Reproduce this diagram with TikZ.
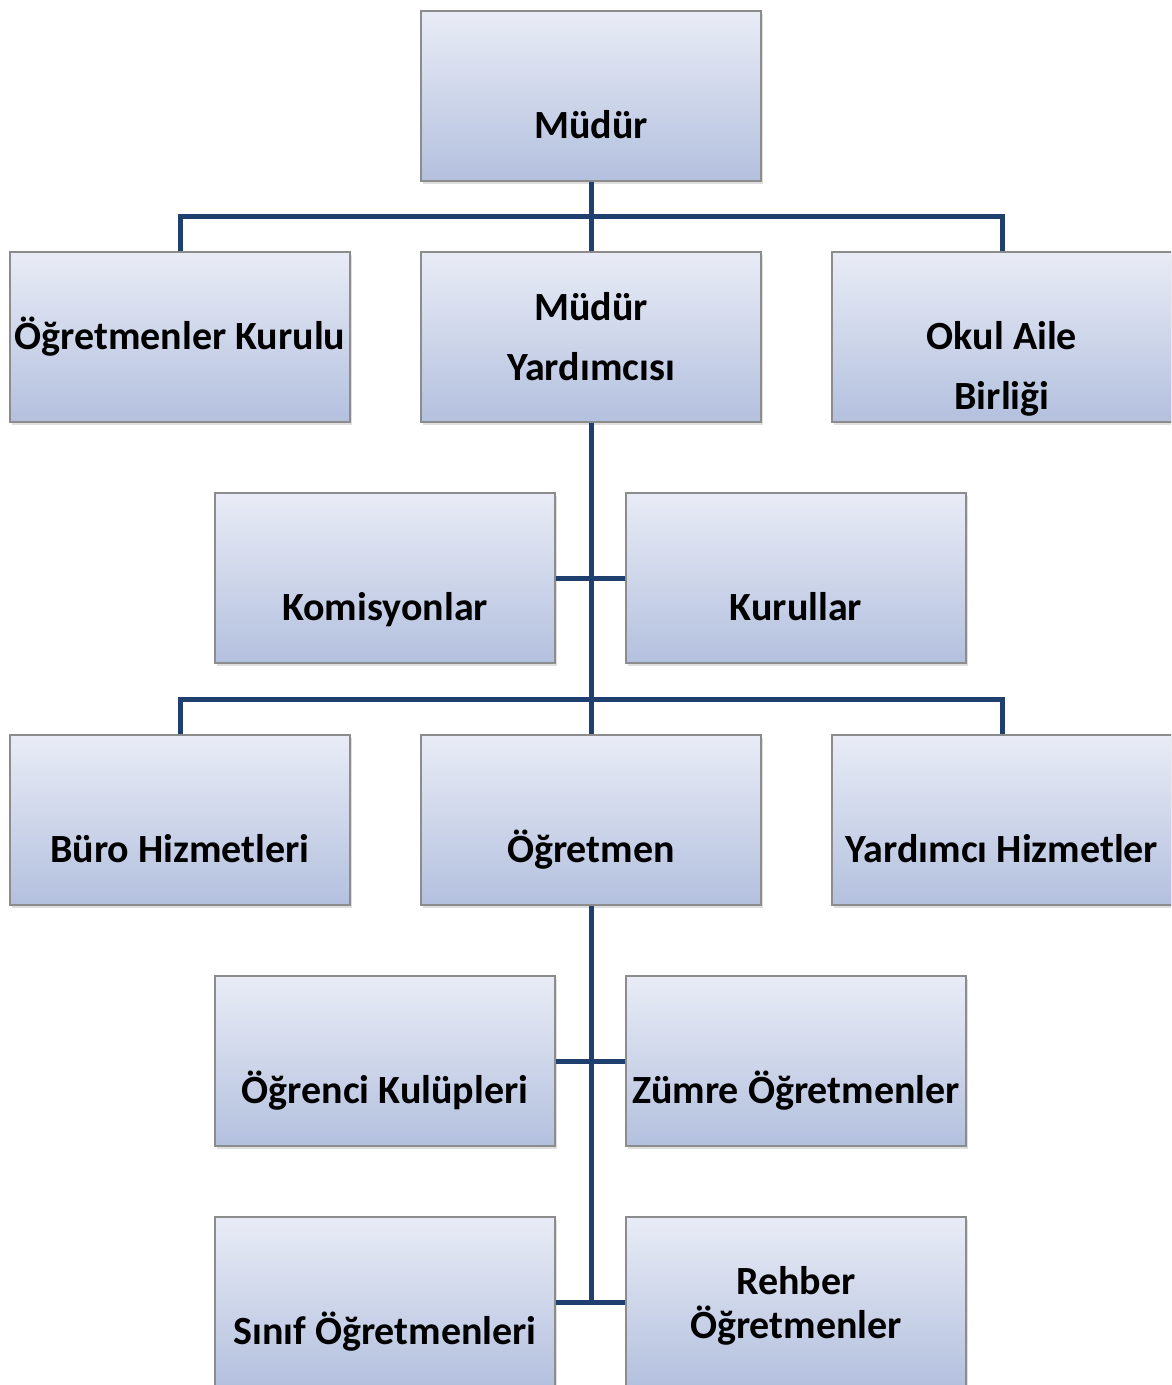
\documentclass[tikz,border=0pt]{standalone}
\usepackage{fontspec}
\setmainfont{Carlito}
\usetikzlibrary{shadows,calc}
\definecolor{boxtop}{RGB}{233,236,246}
\definecolor{boxbot}{RGB}{179,192,222}
\definecolor{boxline}{RGB}{140,140,140}
\definecolor{linkblue}{RGB}{31,63,110}
\newcommand{\lowtext}[2][32pt]{\raisebox{-#1}[0.7em][0.2em]{#2}}
\begin{document}
\begin{tikzpicture}[x=1pt,y=-1pt,
  unit/.style={draw=boxline, line width=1.2pt, top color=boxtop, bottom color=boxbot,
    minimum width=340pt, minimum height=170pt, inner sep=0pt, align=center,
    font=\bfseries\fontsize{40}{60}\selectfont,
    drop shadow={shadow xshift=1.5pt, shadow yshift=-3pt, opacity=0.25}},
  link/.style={draw=linkblue, line width=5pt}]
  \useasboundingbox (0,0) rectangle (1171,1385);
  \clip (0,0) rectangle (1171,1385);
  % Top
  \node[unit] (mudur) at (591,96) {\lowtext{Müdür}};
  % Second row
  \node[unit] (ogrKurulu) at (180,337) {Öğretmenler Kurulu};
  \node[unit] (mudYrd) at (591,337) {Müdür\\Yardımcısı};
  \node[unit] (okulAile) at (1002,337) {\lowtext{Okul Aile}\\\lowtext{Birliği}};
  % Side units
  \node[unit] (komisyon) at (385,578) {\lowtext{Komisyonlar}};
  \node[unit] (kurullar) at (796,578) {\lowtext{Kurullar}};
  % Third row
  \node[unit] (buro) at (180,820) {\lowtext{Büro Hizmetleri}};
  \node[unit] (ogretmen) at (591,820) {\lowtext{Öğretmen}};
  \node[unit] (yardimci) at (1002,820) {\lowtext{Yardımcı Hizmetler}};
  % Teacher units
  \node[unit] (kulup) at (385,1061) {\lowtext{Öğrenci Kulüpleri}};
  \node[unit] (zumre) at (796,1061) {\lowtext{Zümre Öğretmenler}};
  \node[unit] (sinif) at (385,1302) {\lowtext{Sınıf Öğretmenleri}};
  \node[unit] (rehber) at (796,1302) {\lowtext[4pt]{Rehber}\\[-16pt]\lowtext[4pt]{Öğretmenler}};
  % Connectors
  \coordinate (busA) at ($(mudur.south)!0.5!(mudYrd.north)$);
  \coordinate (busB) at ($(komisyon.south -| ogretmen.north)!0.5!(ogretmen.north)$);
  \draw[link] (mudur.south) -- (mudYrd.north);
  \draw[link] (ogrKurulu.north) |- (busA) -| (okulAile.north);
  \draw[link] (mudYrd.south) -- (ogretmen.north);
  \draw[link] (komisyon.east) -- (kurullar.west);
  \draw[link] (buro.north) |- (busB) -| (yardimci.north);
  \draw[link] (ogretmen.south) -- (ogretmen.south |- sinif.east);
  \draw[link] (kulup.east) -- (zumre.west);
  \draw[link] (sinif.east) -- (rehber.west);
\end{tikzpicture}
\end{document}
